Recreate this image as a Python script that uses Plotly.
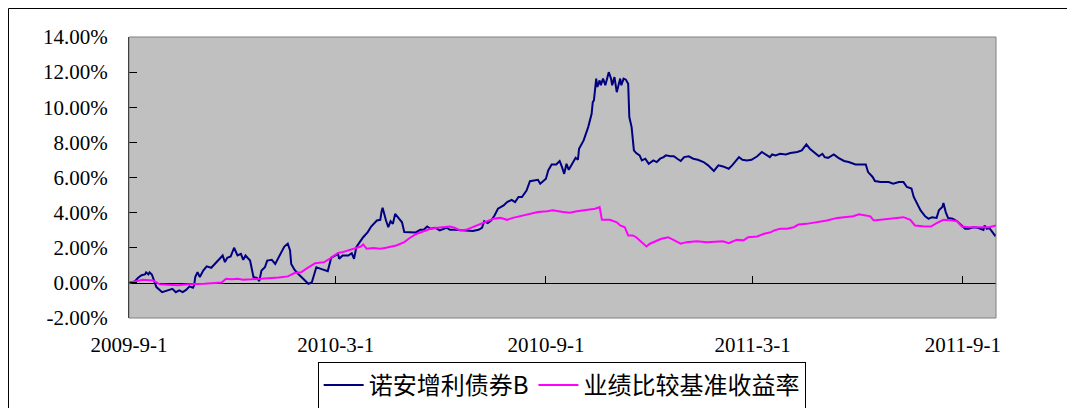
import plotly.graph_objects as go

# ---------------- data ----------------
fund_name = "诺安增利债券B"
bench_name = "业绩比较基准收益率"

fund_dates = [
    "2009-09-01", "2009-09-06", "2009-09-09", "2009-09-12", "2009-09-15", "2009-09-16", "2009-09-18",
    "2009-09-19", "2009-09-21", "2009-09-23", "2009-09-25", "2009-09-30", "2009-10-05", "2009-10-09",
    "2009-10-12", "2009-10-15", "2009-10-18", "2009-10-21", "2009-10-24", "2009-10-27", "2009-10-28",
    "2009-10-29", "2009-10-31", "2009-11-02", "2009-11-05", "2009-11-08", "2009-11-12", "2009-11-15",
    "2009-11-19", "2009-11-22", "2009-11-24", "2009-11-26", "2009-11-29", "2009-12-01", "2009-12-02",
    "2009-12-05", "2009-12-08", "2009-12-10", "2009-12-12", "2009-12-16", "2009-12-19", "2009-12-22",
    "2009-12-24", "2009-12-26", "2009-12-29", "2009-12-31", "2010-01-04", "2010-01-07", "2010-01-10",
    "2010-01-13", "2010-01-15", "2010-01-18", "2010-01-20", "2010-01-21", "2010-01-24", "2010-01-27",
    "2010-01-31", "2010-02-05", "2010-02-08", "2010-02-12", "2010-02-16", "2010-02-22", "2010-02-25",
    "2010-03-03", "2010-03-04", "2010-03-07", "2010-03-12", "2010-03-15", "2010-03-17", "2010-03-19",
    "2010-03-22", "2010-03-25", "2010-03-29", "2010-04-01", "2010-04-06", "2010-04-09", "2010-04-10",
    "2010-04-11", "2010-04-14", "2010-04-16", "2010-04-18", "2010-04-20", "2010-04-22", "2010-04-25",
    "2010-04-28", "2010-04-30", "2010-05-05", "2010-05-10", "2010-05-14", "2010-05-17", "2010-05-20",
    "2010-05-23", "2010-05-27", "2010-05-31", "2010-06-06", "2010-06-09", "2010-06-13", "2010-06-18",
    "2010-06-23", "2010-06-29", "2010-07-04", "2010-07-07", "2010-07-09", "2010-07-12", "2010-07-15",
    "2010-07-18", "2010-07-21", "2010-07-26", "2010-07-29", "2010-08-02", "2010-08-05", "2010-08-08",
    "2010-08-11", "2010-08-15", "2010-08-18", "2010-08-22", "2010-08-25", "2010-08-27", "2010-09-01",
    "2010-09-03", "2010-09-06", "2010-09-10", "2010-09-13", "2010-09-15", "2010-09-17", "2010-09-19",
    "2010-09-21", "2010-09-24", "2010-09-27", "2010-09-29", "2010-09-30", "2010-10-04", "2010-10-08",
    "2010-10-11", "2010-10-12", "2010-10-13", "2010-10-15", "2010-10-16", "2010-10-18", "2010-10-19",
    "2010-10-21", "2010-10-23", "2010-10-26", "2010-10-28", "2010-10-29", "2010-10-31", "2010-11-02",
    "2010-11-05", "2010-11-06", "2010-11-08", "2010-11-10", "2010-11-12", "2010-11-13", "2010-11-15",
    "2010-11-17", "2010-11-19", "2010-11-22", "2010-11-24", "2010-11-27", "2010-11-30", "2010-12-04",
    "2010-12-07", "2010-12-10", "2010-12-13", "2010-12-15", "2010-12-19", "2010-12-22", "2010-12-25",
    "2010-12-28", "2010-12-31", "2011-01-04", "2011-01-08", "2011-01-12", "2011-01-17", "2011-01-21",
    "2011-01-26", "2011-01-30", "2011-02-03", "2011-02-08", "2011-02-11", "2011-02-15", "2011-02-17",
    "2011-02-20", "2011-02-24", "2011-02-28", "2011-03-05", "2011-03-09", "2011-03-13", "2011-03-16",
    "2011-03-18", "2011-03-21", "2011-03-25", "2011-03-30", "2011-04-03", "2011-04-09", "2011-04-13",
    "2011-04-17", "2011-04-20", "2011-04-25", "2011-04-28", "2011-05-01", "2011-05-03", "2011-05-06",
    "2011-05-11", "2011-05-15", "2011-05-20", "2011-05-24", "2011-05-30", "2011-06-03", "2011-06-08",
    "2011-06-10", "2011-06-14", "2011-06-16", "2011-06-21", "2011-06-28", "2011-07-02", "2011-07-07",
    "2011-07-11", "2011-07-14", "2011-07-18", "2011-07-20", "2011-07-23", "2011-07-26", "2011-07-30",
    "2011-08-02", "2011-08-05", "2011-08-09", "2011-08-11", "2011-08-14", "2011-08-15", "2011-08-17",
    "2011-08-19", "2011-08-23", "2011-08-27", "2011-08-31", "2011-09-03", "2011-09-06", "2011-09-10",
    "2011-09-14", "2011-09-19", "2011-09-20", "2011-09-22", "2011-09-24", "2011-09-26", "2011-09-29",
    "2011-09-30",
]
fund_values = [
    0.00, 0.08, 0.29, 0.44, 0.48, 0.60, 0.48,
    0.60, 0.48, 0.14, -0.24, -0.53, -0.43, -0.34,
    -0.53, -0.43, -0.53, -0.40, -0.20, -0.28, -0.15,
    0.33, 0.61, 0.33, 0.70, 0.94, 0.86, 1.08,
    1.37, 1.56, 1.18, 1.43, 1.50, 1.88, 2.00,
    1.56, 1.65, 1.31, 1.56, 1.27, 0.33, 0.29,
    0.10, 0.70, 0.89, 1.27, 1.31, 1.08, 1.43,
    1.75, 2.07, 2.23, 1.85, 1.08, 0.74, 0.52,
    0.29, -0.05, 0.02, 0.89, 0.80, 0.67, 1.43,
    1.65, 1.37, 1.56, 1.56, 1.69, 1.37, 2.03,
    2.32, 2.60, 2.89, 3.21, 3.55, 3.59, 4.03,
    4.28, 3.55, 3.17, 3.51, 3.36, 3.93, 3.70,
    3.45, 2.89, 2.87, 2.87, 3.02, 3.02, 3.21,
    3.08, 3.14, 2.99, 3.14, 3.02, 3.02, 2.99,
    2.95, 2.95, 3.02, 3.14, 3.51, 3.40, 3.55,
    3.84, 4.22, 4.41, 4.60, 4.73, 4.60, 4.89,
    4.89, 5.26, 5.79, 5.83, 5.87, 5.65, 5.93,
    6.40, 6.74, 6.74, 6.94, 6.60, 6.21, 6.78,
    6.44, 6.78, 7.12, 7.01, 7.64, 8.11, 8.87,
    9.63, 10.29, 10.39, 11.63, 11.15, 11.53, 11.25,
    11.63, 11.25, 12.00, 11.63, 11.25, 11.72, 10.86,
    11.63, 11.25, 11.63, 11.57, 11.34, 9.44, 8.87,
    7.54, 7.39, 7.26, 6.97, 7.07, 6.78, 6.97,
    6.88, 7.07, 7.16, 7.26, 7.21, 7.21, 7.07,
    6.94, 7.16, 7.21, 7.07, 7.01, 6.88, 6.69,
    6.37, 6.69, 6.63, 6.50, 6.69, 7.01, 7.16,
    7.01, 6.97, 7.01, 7.21, 7.45, 7.26, 7.16,
    7.31, 7.26, 7.35, 7.31, 7.39, 7.45, 7.54,
    7.88, 7.64, 7.39, 7.21, 7.35, 7.16, 7.12,
    7.31, 7.12, 6.94, 6.88, 6.74, 6.74, 6.74,
    6.31, 6.03, 5.80, 5.74, 5.74, 5.65, 5.74,
    5.74, 5.46, 5.37, 4.89, 4.51, 4.13, 3.79,
    3.65, 3.74, 3.70, 4.13, 4.32, 4.55, 4.03,
    3.70, 3.65, 3.51, 3.27, 3.08, 3.08, 3.17,
    3.14, 3.02, 3.27, 3.08, 3.14, 2.99, 2.70,
    2.76,
]

bench_dates = [
    "2009-09-01", "2009-09-06", "2009-09-13", "2009-09-22", "2009-09-28", "2009-10-05", "2009-10-14",
    "2009-10-23", "2009-10-30", "2009-11-06", "2009-11-12", "2009-11-21", "2009-11-25", "2009-11-30",
    "2009-12-05", "2009-12-10", "2009-12-17", "2009-12-29", "2010-01-10", "2010-01-18", "2010-01-24",
    "2010-01-30", "2010-02-03", "2010-02-11", "2010-02-19", "2010-02-25", "2010-03-03", "2010-03-07",
    "2010-03-16", "2010-03-23", "2010-03-25", "2010-03-28", "2010-04-03", "2010-04-09", "2010-04-14",
    "2010-04-23", "2010-04-30", "2010-05-05", "2010-05-11", "2010-05-17", "2010-05-23", "2010-05-29",
    "2010-06-03", "2010-06-09", "2010-06-13", "2010-06-18", "2010-06-23", "2010-06-29", "2010-07-05",
    "2010-07-11", "2010-07-17", "2010-07-23", "2010-07-29", "2010-08-03", "2010-08-12", "2010-08-18",
    "2010-08-25", "2010-09-02", "2010-09-07", "2010-09-16", "2010-09-22", "2010-09-28", "2010-10-07",
    "2010-10-14", "2010-10-18", "2010-10-20", "2010-10-27", "2010-11-02", "2010-11-05", "2010-11-09",
    "2010-11-12", "2010-11-16", "2010-11-19", "2010-11-24", "2010-11-28", "2010-12-01", "2010-12-07",
    "2010-12-11", "2010-12-17", "2010-12-22", "2010-12-28", "2011-01-02", "2011-01-11", "2011-01-20",
    "2011-01-29", "2011-02-03", "2011-02-08", "2011-02-15", "2011-02-21", "2011-02-25", "2011-03-05",
    "2011-03-11", "2011-03-17", "2011-03-20", "2011-03-25", "2011-03-31", "2011-04-06", "2011-04-10",
    "2011-04-17", "2011-04-26", "2011-05-05", "2011-05-14", "2011-05-23", "2011-05-28", "2011-06-02",
    "2011-06-06", "2011-06-12", "2011-06-15", "2011-06-21", "2011-06-29", "2011-07-05", "2011-07-11",
    "2011-07-17", "2011-07-21", "2011-07-28", "2011-08-04", "2011-08-09", "2011-08-15", "2011-08-23",
    "2011-08-27", "2011-08-31", "2011-09-06", "2011-09-13", "2011-09-24", "2011-09-30",
]
bench_values = [
    0.00, 0.08, 0.18, 0.14, -0.08, -0.10, -0.13,
    -0.08, -0.08, -0.05, -0.02, 0.02, 0.23, 0.20,
    0.23, 0.18, 0.20, 0.24, 0.31, 0.37, 0.56,
    0.61, 0.80, 1.12, 1.18, 1.43, 1.71, 1.75,
    1.95, 2.07, 2.19, 1.95, 1.98, 1.95, 2.00,
    2.13, 2.32, 2.57, 2.80, 2.95, 3.08, 3.14,
    3.17, 3.21, 3.14, 2.99, 3.02, 3.17, 3.36,
    3.49, 3.65, 3.70, 3.59, 3.70, 3.84, 3.93,
    4.03, 4.08, 4.13, 4.03, 4.00, 4.08, 4.16,
    4.22, 4.32, 3.59, 3.59, 3.45, 3.27, 3.17,
    2.70, 2.70, 2.60, 2.32, 2.07, 2.23, 2.42,
    2.51, 2.60, 2.42, 2.23, 2.32, 2.37, 2.32,
    2.37, 2.37, 2.26, 2.45, 2.42, 2.60, 2.64,
    2.80, 2.89, 2.99, 3.08, 3.08, 3.17, 3.32,
    3.36, 3.45, 3.55, 3.70, 3.74, 3.79, 3.90,
    3.84, 3.79, 3.55, 3.59, 3.65, 3.70, 3.74,
    3.59, 3.27, 3.23, 3.21, 3.40, 3.59, 3.55,
    3.51, 3.21, 3.17, 3.17, 3.17, 3.27,
]

x_range = ["2009-09-01", "2011-09-30"]
x_tick_vals = ["2009-09-01", "2010-03-01", "2010-09-01", "2011-03-01", "2011-09-01"]
x_tick_text = ["2009-9-1", "2010-3-1", "2010-9-1", "2011-3-1", "2011-9-1"]
y_range = [-2, 14]
y_tick_vals = [-2, 0, 2, 4, 6, 8, 10, 12, 14]
y_tick_text = ["-2.00%", "0.00%", "2.00%", "4.00%", "6.00%", "8.00%", "10.00%", "12.00%", "14.00%"]

# ---------------- figure ----------------
TICK_FONT = dict(family="Liberation Serif", size=21, color="#000000")
LEGEND_FONT = dict(family="Noto Sans CJK SC", size=24, color="#000000")

fig = go.Figure()
fig.add_trace(go.Scatter(
    x=fund_dates, y=fund_values, name=fund_name, mode="lines",
    line=dict(color="#000080", width=2), xaxis="x", yaxis="y", hoverinfo="skip",
))
fig.add_trace(go.Scatter(
    x=bench_dates, y=bench_values, name=bench_name, mode="lines",
    line=dict(color="#FF00FF", width=2), xaxis="x2", yaxis="y", hoverinfo="skip",
))

zero_pos = (0 - y_range[0]) / (y_range[1] - y_range[0])

# the page body adds an 8px offset; margins compensate for it
FIG_H = 420
fig.update_layout(
    width=1075, height=FIG_H,
    margin=dict(l=121, r=87, t=29, b=FIG_H - 310, pad=0),
    paper_bgcolor="#FFFFFF",
    plot_bgcolor="#C0C0C0",
    showlegend=True,
    hovermode=False,
    xaxis=dict(
        type="date", range=x_range, domain=[0, 1],
        tickmode="array", tickvals=x_tick_vals, ticktext=x_tick_text,
        ticks="", showgrid=False, zeroline=False, showline=False,
        tickfont=TICK_FONT, ticklabelstandoff=12,
    ),
    xaxis2=dict(
        type="date", range=x_range, overlaying="x", anchor="free", position=zero_pos,
        side="bottom", tickmode="array", tickvals=x_tick_vals,
        showticklabels=False, ticks="inside", ticklen=7, tickwidth=1, tickcolor="#000000",
        showline=True, linecolor="#000000", linewidth=1,
        showgrid=False, zeroline=False, layer="below traces",
    ),
    yaxis=dict(
        range=y_range, domain=[0, 1],
        tickmode="array", tickvals=y_tick_vals, ticktext=y_tick_text,
        ticks="inside", ticklen=8, tickwidth=1, tickcolor="#000000",
        showline=True, linecolor="#000000", linewidth=1,
        showgrid=False, zeroline=False,
        tickfont=TICK_FONT, ticklabelstandoff=16,
    ),
    legend=dict(
        orientation="h", x=0.499, xanchor="center", y=-0.2402, yanchor="middle",
        bgcolor="#FFFFFF", bordercolor="#000000", borderwidth=1,
        font=LEGEND_FONT, itemwidth=40, tracegroupgap=0,
    ),
    shapes=[
        dict(type="rect", xref="paper", yref="paper", x0=0, x1=1, y0=0, y1=1,
             line=dict(color="#808080", width=1), fillcolor="rgba(0,0,0,0)", layer="above"),
        dict(type="rect", xref="paper", yref="paper", x0=-0.139, x1=1.3, y0=-0.5, y1=1.1014,
             line=dict(color="#000000", width=1), fillcolor="rgba(0,0,0,0)", layer="below"),
    ],
)

fig.write_html("out.html")
